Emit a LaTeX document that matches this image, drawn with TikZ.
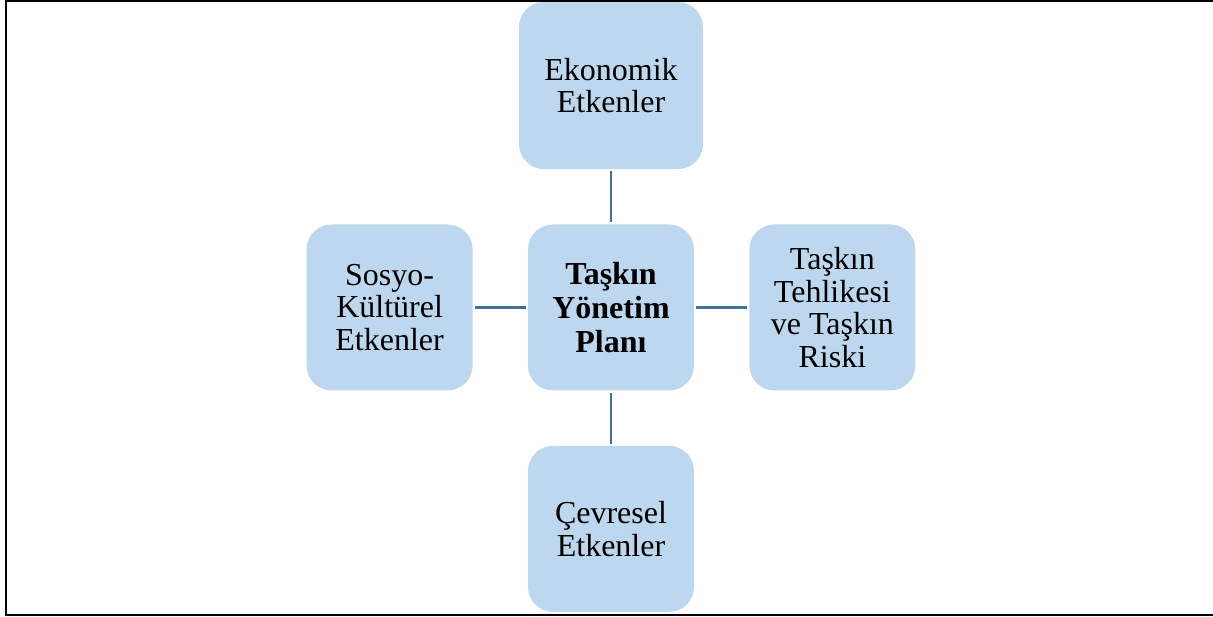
\documentclass[tikz,border=0pt]{standalone}
\usepackage{fontspec}
\setmainfont{Liberation Serif}
\usepackage{tikz}
\usetikzlibrary{positioning}

\definecolor{KutuMavi}{RGB}{189, 215, 238}
\definecolor{CizgiMavi}{RGB}{65, 113, 156}

\tikzset{
  etken/.style={rectangle, rounded corners=25pt, fill=KutuMavi, minimum width=166pt,
    minimum height=166pt, align=center, inner sep=0pt,
    font=\fontsize{32}{32.5}\selectfont},
  baglanti/.style={draw=CizgiMavi, line width=2.6pt, shorten <=2pt, shorten >=2pt}
}

\begin{document}
\begin{tikzpicture}[x=1pt, y=1pt, node distance=55pt]
  \useasboundingbox (0,0) rectangle (1213,617);

  % Frame (right side falls outside the page)
  \draw[line width=2pt] (1230,615.5) -- (6,615.5) -- (6,2) -- (1230,2);

  % Centre
  \node[etken, font=\fontsize{32}{34}\selectfont\bfseries] (plan) at (611,309.5) {Taşkın\\Yönetim\\Planı};

  % Surrounding factors
  \node[etken, minimum width=184pt, minimum height=167pt, above=of plan] (ekonomik) {Ekonomik\\Etkenler};
  \node[etken, left=of plan] (sosyo) {Sosyo-\\Kültürel\\Etkenler};
  \node[etken, right=of plan] (risk) {Taşkın\\Tehlikesi\\ve Taşkın\\Riski};
  \node[etken, below=of plan] (cevre) {Çevresel\\Etkenler};

  % Connectors
  \draw[baglanti] (ekonomik) -- (plan);
  \draw[baglanti] (sosyo) -- (plan);
  \draw[baglanti] (plan) -- (risk);
  \draw[baglanti] (plan) -- (cevre);
\end{tikzpicture}
\end{document}
